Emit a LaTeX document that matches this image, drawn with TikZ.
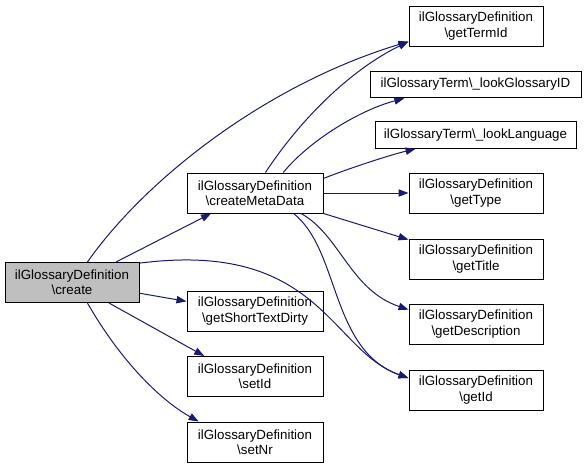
\documentclass[tikz,border=0pt]{standalone}
\usepackage{fontspec}
\setmainfont{Liberation Sans}
\definecolor{EdgeColor}{RGB}{25,25,112}
\definecolor{BorderColor}{RGB}{0,0,0}
\definecolor{RootColor}{RGB}{191,191,191}
\usepackage{tikz}
\usetikzlibrary{arrows.meta, positioning}
\tikzstyle{func} = [rectangle, draw=BorderColor, line width=0.75pt, fill=white, align=center, inner sep=0pt, minimum width=100.5pt, minimum height=30pt, font=\fontsize{10}{11.5}\selectfont]
\tikzstyle{wide} = [func, minimum height=20pt]
\tikzstyle{root} = [func, fill=RootColor]
\tikzstyle{call} = [line width=0.75pt, EdgeColor, -{Triangle[length=7.5pt,width=5.5pt]}]

\begin{document}
\begin{tikzpicture}[x=0.75pt, y=-0.75pt]
            \useasboundingbox (0,0) rectangle (587,468);

            % Caller
            \node[root] (create) at (72,282.5) {ilGlossaryDefinition\\\textbackslash create};

            % First level
            \node[func, minimum width=102pt] (createMeta) at (255,193) {ilGlossaryDefinition\\\textbackslash createMetaData};
            \node[func, minimum width=102pt] (shortText) at (255,311) {ilGlossaryDefinition\\\textbackslash getShortTextDirty};
            \node[func, minimum width=102pt] (setId) at (255,376.5) {ilGlossaryDefinition\\\textbackslash setId};
            \node[func, minimum width=102pt] (setNr) at (255,442) {ilGlossaryDefinition\\\textbackslash setNr};

            % Second level
            \node[func] (getTermId) at (476,26) {ilGlossaryDefinition\\\textbackslash getTermId};
            \node[wide, minimum width=158.25pt] (lookGlossary) at (475.5,84.5) {ilGlossaryTerm\textbackslash\_lookGlossaryID};
            \node[wide, minimum width=150.75pt] (lookLanguage) at (475.5,135) {ilGlossaryTerm\textbackslash\_lookLanguage};
            \node[func] (getType) at (476,193) {ilGlossaryDefinition\\\textbackslash getType};
            \node[func] (getTitle) at (476,259) {ilGlossaryDefinition\\\textbackslash getTitle};
            \node[func] (getDescription) at (476,324) {ilGlossaryDefinition\\\textbackslash getDescription};
            \node[func] (getId) at (476,390) {ilGlossaryDefinition\\\textbackslash getId};

            % Calls from create
            \draw[call] (create.53) .. controls (145,180) and (265,85) .. (getTermId.193);
            \draw[call] (create.25) -- (createMeta.205);
            \draw[call] (create.16) .. controls (320,240) and (330,350) .. (getId.170);
            \draw[call] (create.-9) -- (shortText.172);
            \draw[call] (create.-29) -- (setId.158);
            \draw[call] (create.-53) .. controls (120,360) and (160,400) .. (setNr.160);

            % Calls from createMetaData
            \draw[call] (createMeta.63) .. controls (300,120) and (350,70) .. (getTermId.193);
            \draw[call] (createMeta.36) .. controls (310,140) and (360,110) .. (lookGlossary.191);
            \draw[call] (createMeta.12) .. controls (350,168) and (390,155) .. (lookLanguage.193);
            \draw[call] (createMeta.east) -- (getType.west);
            \draw[call] (createMeta.south east) -- (getTitle.164);
            \draw[call] (createMeta.-24) .. controls (340,235) and (350,290) .. (getDescription.168);
            \draw[call] (createMeta.-28) .. controls (340,250) and (330,350) .. (getId.170);
        \end{tikzpicture}
\end{document}
